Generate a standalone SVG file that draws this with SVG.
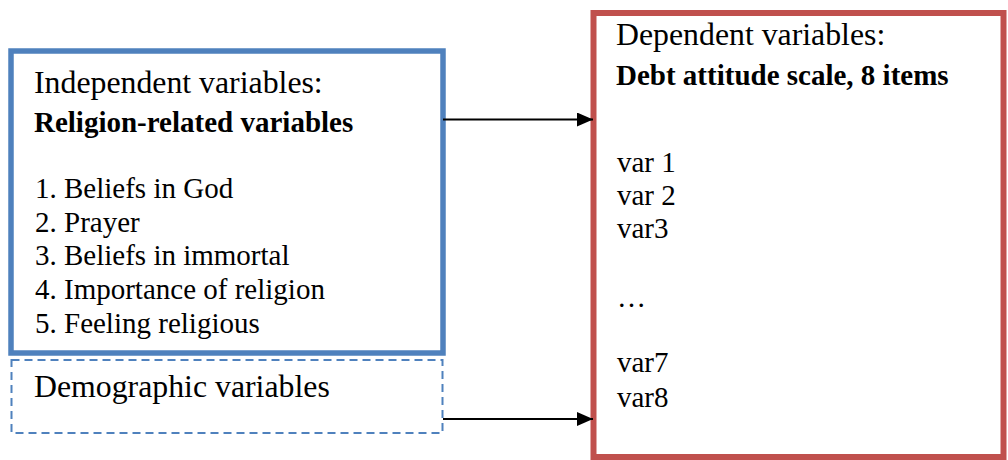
<svg xmlns="http://www.w3.org/2000/svg" width="1008" height="460" viewBox="0 0 1008 460">
<style>
text{font-family:'Liberation Serif','Times New Roman',serif;fill:#000}
.h{font-size:31.8px}
.s{font-size:29px}
.b{font-weight:bold}
</style>
<defs>
<marker id="ah" markerWidth="16" markerHeight="14" refX="16" refY="7" orient="auto" markerUnits="userSpaceOnUse" viewBox="0 0 16 14">
<path d="M0,0 L16,7 L0,14 Z" fill="#000"/>
</marker>
</defs>
<rect width="1008" height="460" fill="#fff"/>
<g id="independent">
<rect x="11" y="51" width="432" height="302" fill="none" stroke="#4f81bd" stroke-width="5.5"/>
<text x="34" y="93" class="h">Independent variables:</text>
<text x="34" y="132" class="s b">Religion-related variables</text>
<text x="35" y="198" class="s">1. Beliefs in God</text>
<text x="35" y="232" class="s">2. Prayer</text>
<text x="35" y="265" class="s">3. Beliefs in immortal</text>
<text x="35" y="299" class="s">4. Importance of religion</text>
<text x="35" y="333" class="s">5. Feeling religious</text>
</g>
<g id="demographic">
<rect x="11.5" y="360" width="431" height="73" fill="none" stroke="#4f81bd" stroke-width="2" stroke-dasharray="8,5"/>
<text x="34" y="397" class="h">Demographic variables</text>
</g>
<g id="dependent">
<rect x="593.5" y="13" width="410" height="444" fill="none" stroke="#c0504d" stroke-width="6"/>
<text x="616" y="45" class="h">Dependent variables:</text>
<text x="616" y="85" class="s b">Debt attitude scale, 8 items</text>
<text x="617" y="172" class="s">var 1</text>
<text x="617" y="205" class="s">var 2</text>
<text x="617" y="238" class="s">var3</text>
<text x="617" y="307" class="s">…</text>
<text x="617" y="372" class="s">var7</text>
<text x="617" y="407" class="s">var8</text>
</g>
<g id="connectors" stroke="#000" stroke-width="2">
<line x1="443" y1="119.5" x2="593" y2="119.5" marker-end="url(#ah)"/>
<line x1="443" y1="419" x2="593" y2="419" marker-end="url(#ah)"/>
</g>
</svg>
